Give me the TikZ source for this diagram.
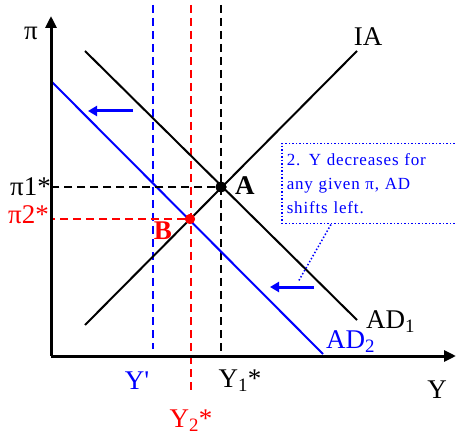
\documentclass[tikz,border=0pt]{standalone}
\usepackage{fontspec}
\setmainfont{Liberation Serif}
\newfontfamily\plainserif{Liberation Serif}
\usetikzlibrary{arrows.meta}
\tikzset{
  lbl/.style={font=\fontsize{27}{29}\selectfont, inner sep=0pt},
  notetext/.style={draw=blue, dotted, line width=1.5pt, text=blue, align=left,
                   font=\fontsize{17}{24}\selectfont\addfontfeatures{LetterSpace=5}, text width=166pt,
                   inner xsep=5pt, inner ysep=3pt, minimum width=176pt, minimum height=80pt},
  axis/.style={line width=3pt, -{Triangle[length=12pt, width=11pt]}},
  curve/.style={line width=2pt},
  guide/.style={line width=2.5pt, dash pattern=on 8pt off 5pt},
  shiftarrow/.style={blue, line width=3pt, -{Triangle[length=9pt, width=10pt]}},
  eqdot/.style={circle, fill, inner sep=0pt, minimum size=11pt},
}
\begin{document}
\begin{tikzpicture}[x=1pt,y=-1pt]
  \useasboundingbox (0,0) rectangle (457,435);

  %% ---------- axes ----------
  \coordinate (O) at (51,356);
  \coordinate (ytop) at (51,16);
  \coordinate (xend) at (456,356);
  \node[lbl] (pilab) at (31,33) {π};
  \node[lbl] (ylab) at (437,390) {Y};

  %% ---------- guide lines ----------
  \coordinate (Yprime top) at (153,5);   \coordinate (Yprime bot) at (153,349);
  \coordinate (Ytwo top)   at (191,5);   \coordinate (Ytwo bot)   at (191,392);
  \coordinate (Yone top)   at (221,5);   \coordinate (Yone bot)   at (221,356);
  \coordinate (pione ax)   at (51,187);  \coordinate (pitwo ax)   at (51,219);

  \draw[guide, blue, line width=2pt] (Yprime top) -- (Yprime bot);
  \draw[guide, red, line width=2pt] (Ytwo top) -- (Ytwo bot);
  \draw[guide] (Yone top) -- (Yone bot);

  %% ---------- curves ----------
  \coordinate (IAlo) at (85,325);  \coordinate (IAhi) at (357,51);
  \coordinate (ADa)  at (85,51);   \coordinate (ADb)  at (357,320);
  \coordinate (ADc)  at (51,81);   \coordinate (ADd)  at (323,354);
  \draw[curve] (IAlo) -- (IAhi);
  \draw[curve] (ADa) -- (ADb);
  \draw[curve, blue] (ADc) -- (ADd);

  \node[lbl] (IAlab) at (368,37) {IA};
  \node[lbl, anchor=west] (AD1lab) at (366,322) {AD\textsubscript{1}};
  \node[lbl, anchor=west, blue] (AD2lab) at (326,342) {AD\textsubscript{2}};

  %% ---------- equilibria ----------
  \node[eqdot] (A) at (221,187) {};
  \node[eqdot, red, minimum size=10pt] (B) at (190,219) {};
  \draw[guide] (A) -- (pione ax);
  \draw[guide, red, line width=2pt] (B) -- (pitwo ax);
  \node[eqdot] at (A) {};
  \node[eqdot, red, minimum size=10pt] at (B) {};
  \node[lbl, font=\fontsize{27}{29}\selectfont\bfseries, anchor=west] (Alab) at (235,186) {A};
  \node[lbl, font=\fontsize{27}{29}\selectfont\bfseries, red] (Blab) at (163,231) {B};

  \draw[axis] (O) -- (ytop);
  \draw[axis] (O) -- (xend);

  %% ---------- axis labels ----------
  \node[lbl, anchor=east] (pi1) at (51,187) {π1*};
  \node[lbl, anchor=east, red] (pi2) at (49,215) {π2*};
  \node[lbl, blue, font=\fontsize{27}{29}\plainserif] (Yp) at (137,381) {Y'};
  \node[lbl] (Y1) at (240,381) {Y\textsubscript{1}*};
  \node[lbl, red] (Y2) at (191,421) {Y\textsubscript{2}*};

  %% ---------- shifts ----------
  \coordinate (sh1a) at (133,111);  \coordinate (sh1b) at (88,111);
  \coordinate (sh2a) at (314,287);  \coordinate (sh2b) at (270,287);
  \draw[shiftarrow] (sh1a) -- (sh1b);
  \draw[shiftarrow] (sh2a) -- (sh2b);

  %% ---------- note ----------
  \node[notetext, anchor=north west] (note) at (281,143)
    {2. Y decreases for\\any given π, AD\\shifts left.};
  \coordinate (notetip) at (298,282);
  \draw[blue, dotted, line width=1.5pt] ([xshift=50pt]note.south west) -- (notetip);
\end{tikzpicture}
\end{document}
